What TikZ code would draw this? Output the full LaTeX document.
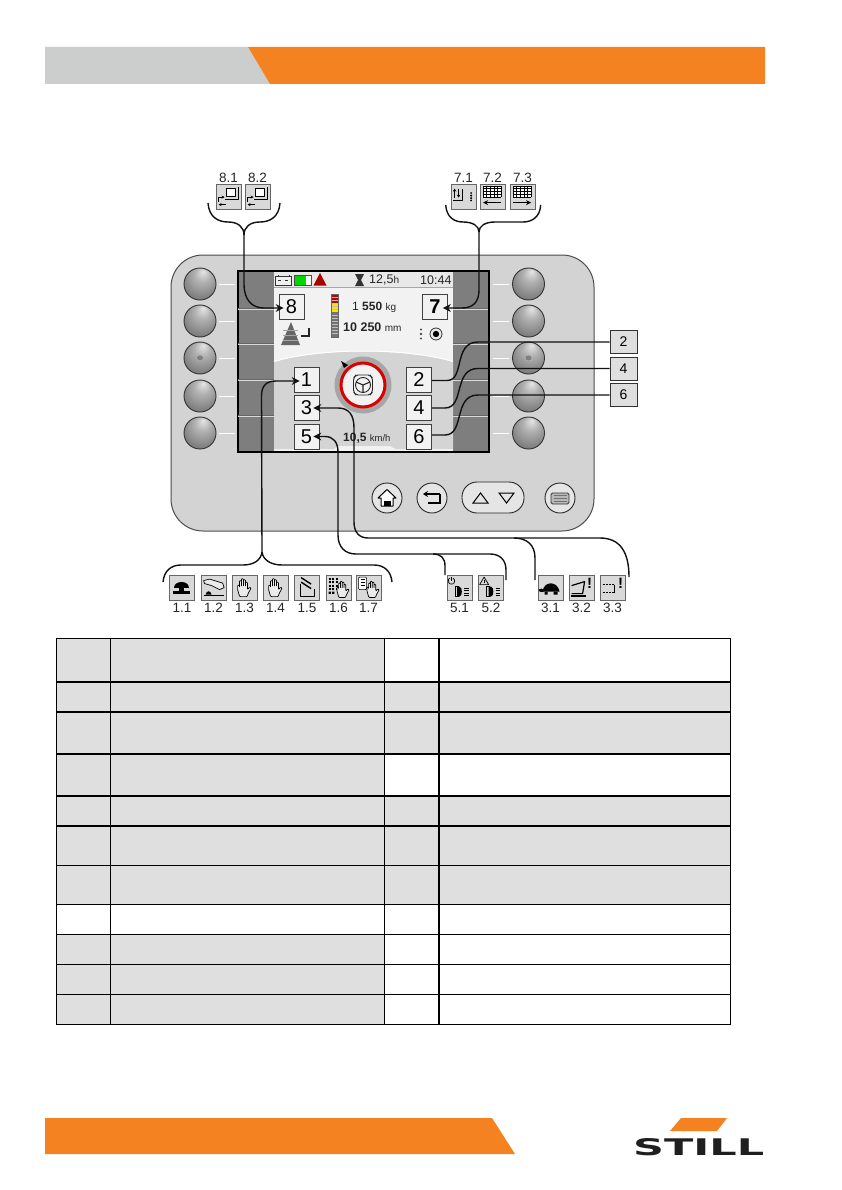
\documentclass[tikz,border=0pt]{standalone}
\usepackage{fontspec}
\usepackage{graphicx}
\setmainfont{Liberation Sans}
\newfontfamily\logofont{DejaVu Sans}
\usetikzlibrary{arrows.meta,calc,shapes.geometric}
\definecolor{orng}{HTML}{F58220}
\definecolor{hdrgray}{HTML}{CCCDCD}
\definecolor{cellgray}{HTML}{DFDFDF}
\definecolor{panelgray}{HTML}{D3D3D3}
\definecolor{sideblock}{HTML}{7E7E7E}
\definecolor{icongray}{HTML}{D9D9D9}
\definecolor{ink}{HTML}{111111}
\pgfdeclareradialshading{btnball}{\pgfpoint{5bp}{20bp}}{color(0bp)=(black!10); color(12bp)=(black!30); color(30bp)=(black!50); color(50bp)=(black!62)}
\tikzset{
  conn/.style={line width=1.4pt,draw=ink,line join=round},
  arrowconn/.style={conn,-{Stealth[length=8pt,width=8pt]}},
  numbox/.style={draw=black!75,line width=.7pt,fill=black!5,minimum width=25pt,minimum height=25pt,inner sep=0pt,font=\fontsize{20}{20}\selectfont},
  sidebox/.style={draw=black!80,line width=.8pt,fill=cellgray,minimum width=27pt,minimum height=23pt,inner sep=0pt,font=\fontsize{14}{14}\selectfont},
  iconbox/.style={draw=black!60,line width=.8pt,fill=icongray,minimum width=25pt,minimum height=25pt,inner sep=0pt},
  lab/.style={inner sep=0pt,font=\fontsize{13.5}{13.5}\selectfont,text=black!85},
  ballbtn/.style={circle,draw=black!80,line width=.9pt,minimum size=32pt,inner sep=0pt,shading=btnball},
  softbtn/.style={circle,draw=black!85,line width=.9pt,fill=black!10,minimum size=30pt,inner sep=0pt},
  tickl/.style={draw=white,line width=1pt},
  gl/.style={draw=black,line width=.7pt,line join=round},
  scr/.style={inner sep=0pt,text=black!85},
}
\newcommand{\handglyph}{%
  \draw[gl,rounded corners=.8pt,fill=white!92!black]
   (8,22)--(6,15)--(6,10.5)--(7.8,10.5)--(7.8,13)--(7.8,6)--(9.8,6)--(9.8,12)--(9.8,4)--(11.8,4)--(11.8,12)--(11.8,5)--(13.8,5)--(13.8,12)--(13.8,7.5)--(15.8,7.5)--(15.8,15)--(18,12.5)--(19.5,13.5)--(16.5,19)--(15.5,22)--cycle;}
\newcommand{\lampglyph}{%
  \draw[gl,line width=.9pt] (12,12) -- (8.5,12) -- (8.5,22) -- (12,22);
  \fill (10.5,12) -- (13,12) .. controls (16,13) and (16,21) .. (13,22) -- (10.5,22) -- cycle;
  \foreach \q in {13.5,16,18.5,21} {\draw[gl,line width=.6pt] (17.5,\q) -- (22,\q);}}
\newcommand{\gridglyph}{%
 \fill[white] (3.5,2.5) rectangle (21.5,13.3);
 \foreach \a in {3.5,7.1,10.7,14.3,17.9,21.5} {\draw[gl,line width=.6pt] (\a,2.5) -- (\a,13.3);}
 \foreach \b in {2.5,5.2,7.9,10.6,13.3} {\draw[gl,line width=.6pt] (3.5,\b) -- (21.5,\b);}}
\begin{document}
\begin{tikzpicture}[x=1pt,y=-1pt]
\useasboundingbox (0,0) rectangle (842,1190);
\fill[white] (0,0) rectangle (842,1190);
% header and footer
\fill[hdrgray] (45,47) -- (248,47) -- (270,84) -- (45,84) -- cycle;
\fill[orng] (248,47) -- (765,47) -- (765,84) -- (270,84) -- cycle;
\fill[orng] (45,1118) -- (492,1118) -- (515,1154) -- (45,1154) -- cycle;
% logo
\fill[orng] (670,1131) -- (681,1118) -- (727,1118) -- (717,1131) -- cycle;
\node[inner sep=0pt,anchor=north west,text=black!88] (logo) at (633,1138) {\resizebox{131pt}{17pt}{\logofont\bfseries STILL}};
% table
\fill[cellgray] (56,638) rectangle (385,904);
\fill[cellgray] (56,934) rectangle (385,1024);
\fill[cellgray] (385,682) rectangle (731,754);
\fill[cellgray] (385,796) rectangle (731,904);
\foreach \q in {682,712,754,796,826} {\draw[black,line width=1.7pt] (56,\q) -- (731,\q);}
\foreach \q in {638,865.5,904.5,934,964.5,994.5,1024} {\draw[black,line width=1pt] (56,\q) -- (731,\q);}
\foreach \q in {56.3,110.7,384.5,730.7} {\draw[black,line width=1pt] (\q,638) -- (\q,1024);}
\draw[black,line width=1.7pt] (439,638) -- (439,1024);
% panel
\draw[draw=black!70,line width=1pt,fill=panelgray,rounded corners=32pt] (171,255) rectangle (594,531);
% screen
\fill[black] (236.5,270) rectangle (489.5,453);
\fill[sideblock] (238.5,272) rectangle (274,450.5);
\fill[sideblock] (453,272) rectangle (487.5,450.5);
\foreach \q in {309,344.5,380,416} {
  \draw[black!60,line width=.8pt] (238,\q-1) -- (274,\q-1) (453,\q-1) -- (488,\q-1);
  \draw[white!85!black,line width=.8pt] (238,\q) -- (274,\q) (453,\q) -- (488,\q);}
\fill[black!5] (274,272) rectangle (453,450.5);
\fill[black!9] (274,272) rectangle (453,287);
\draw[black!35,line width=.6pt] (274,287.5) -- (453,287.5);
\fill[black!17] (274,362) .. controls (320,348) and (406,348) .. (453,362) -- (453,449) -- (396,449) -- (390,446) -- (338,446) -- (334,449) -- (274,449) -- cycle;
\draw[white,line width=1pt] (274,361.5) .. controls (320,347.5) and (406,347.5) .. (453,361.5);
% status bar
\draw[black!80,line width=.7pt,fill=black!6] (275.5,276) rectangle (291.5,285);
\draw[black!80,line width=.9pt] (278,275) -- (278,276) (289,275) -- (289,276) (278,280) -- (281,280) (285,280) -- (288,280);
\draw[black!70,line width=.7pt,fill=white] (294.5,275) rectangle (311,285);
\fill[green!85!black] (295,275.5) rectangle (306,284.5);
\fill[red!65!black] (313.5,285.5) -- (320,273) -- (326.5,285.5) -- cycle;
\fill[black!80] (355,274) -- (364,274) -- (361,280) -- (364,286) -- (355,286) -- (358,280) -- cycle;
\node[scr,anchor=west] (t125) at (369,280) {\fontsize{12.5}{12.5}\selectfont 12,5\fontsize{10}{10}\selectfont h};
\node[scr,anchor=west] (t1044) at (420,280) {\fontsize{12.5}{12.5}\selectfont 10:44};
% load bar and values
\fill[black!55] (331,294) rectangle (338,337);
\fill[red!75!black] (331,294) rectangle (338,303);
\fill[yellow!85!orange] (331,303) rectangle (338,312);
\foreach \q in {297,300,306,309,315,318,321,324,327,330,333} {\draw[black!25,line width=.4pt] (331,\q) -- (338,\q);}
\draw[black!60,line width=.5pt] (331,294) rectangle (338,337);
\node[scr,anchor=west] (tkg) at (352,307.5) {\fontsize{12}{12}\selectfont 1 \textbf{550} \fontsize{10}{10}\selectfont kg};
\node[scr,anchor=west] (tmm) at (343,327) {\fontsize{12.5}{12.5}\selectfont\textbf{10 250} \fontsize{10}{10}\selectfont mm};
% cone and corner
\fill[black!60] (281,345) -- (291,322) -- (300,345) -- cycle;
\foreach \q in {330,335,340} {\draw[black!35,line width=.4pt] (283,\q) -- (298,\q);}
\draw[black!85,line width=1.3pt] (301,336) -- (309,336) -- (309,328);
% right small icons
\fill[black!70] (421,329.5) circle (1.2) (421,334) circle (1.4) (421,338.5) circle (1.2);
\draw[black!80,line width=.8pt,fill=black!8] (436,334) circle (6);
\fill[black] (436,334) circle (3.2);
% dial
\fill[black!35] (363,385) circle (28.5);
\fill[white!95!black] (363,385) circle (22);
\draw[red!85!black,line width=3pt] (363,385) circle (22);
\fill[black] (341,361) -- (348,365) -- (344,368) -- cycle;
\draw[black!85,line width=.9pt,rounded corners=2pt] (353.5,378) -- (356,375) -- (370,375) -- (372.5,378) -- (372.5,392) -- (370,395) -- (356,395) -- (353.5,392) -- cycle;
\draw[black!85,line width=.9pt] (363,385) circle (7.5);
\draw[black!85,line width=1.1pt] (363,385) -- (363,392.5) (363,385) -- (356,382) (363,385) -- (370,382);
\node[scr,anchor=west] (tkmh) at (343,438) {\fontsize{12}{12}\selectfont\textbf{10,5} \fontsize{9.5}{9.5}\selectfont km/h};
% ball buttons
\foreach \nm/\yy in {a/284,b/321,c/358,d/396,e/433} {
  \node[ballbtn] (bl\nm) at (200,\yy) {};
  \node[ballbtn] (br\nm) at (528.5,\yy) {};
  \draw[tickl] ($(bl\nm.east)+(3,0)$) -- ($(bl\nm.east)+(19,0)$);
  \draw[tickl] ($(br\nm.west)+(-3,0)$) -- ($(br\nm.west)+(-19,0)$);
}
\fill[black!50] (blc.center) ellipse (3.5 and 3);
\fill[black!50] (brc.center) ellipse (3.5 and 3);
\draw[black!25,line width=.4pt] (blc.center) ellipse (3.5 and 3) (brc.center) ellipse (3.5 and 3);
% soft buttons
\node[softbtn] (home) at (387,498) {};
\node[softbtn] (back) at (432,498) {};
\node[softbtn] (menu) at (560,498) {};
\node[draw=black!85,line width=.9pt,fill=black!10,rounded corners=15pt,minimum width=62pt,minimum height=31pt,inner sep=0pt] (updn) at (493,497.5) {};
\draw[black,line width=1pt,fill=white,line join=round] (378,498) -- (387,489.5) -- (396,498) -- (393,498) -- (393,506) -- (381,506) -- (381,498) -- cycle;
\fill[black] (384,501) rectangle (391,506);
\draw[black,line width=1.2pt] (428,503) -- (440,503) -- (440,494);
\draw[black,line width=1.2pt,-{Stealth[length=5pt,width=6pt]}] (440,494) -- (423,494);
\draw[black,line width=1pt,line join=miter] (473,503) -- (480.5,493) -- (488,503) -- cycle;
\draw[black,line width=1pt,line join=miter] (499,493) -- (514,493) -- (506.5,503) -- cycle;
\draw[black!80,line width=.9pt,fill=black!28,rounded corners=1.5pt] (551,493) rectangle (569,504);
\foreach \q in {495.5,498.5,501.5} {\draw[black!55,line width=.6pt] (553.5,\q) -- (566.5,\q);}
% numbered boxes
\node[numbox] (n8) at (291.5,307) {8};
\node[numbox] (n7) at (435,307) {\textbf{7}};
\node[numbox] (n1) at (306.5,379.5) {1};
\node[numbox] (n3) at (306.5,408) {3};
\node[numbox] (n5) at (306.5,436.5) {5};
\node[numbox] (n2) at (419,379.5) {2};
\node[numbox] (n4) at (419,408) {4};
\node[numbox] (n6) at (419,436.5) {6};
\node[sidebox] (s2) at (623.5,342) {2};
\node[sidebox] (s4) at (623.5,368.5) {4};
\node[sidebox] (s6) at (623.5,395) {6};
% icons and their labels
\foreach \nm/\xx/\yy/\tt/\ly in {
 i11/182/587.5/1.1/608, i12/213.5/587.5/1.2/608, i13/244.5/587.5/1.3/608, i14/275.5/587.5/1.4/608,
 i15/307/587.5/1.5/608, i16/338.5/587.5/1.6/608, i17/368.5/587.5/1.7/608,
 i51/459.5/587.5/5.1/608, i52/491/587.5/5.2/608, i31/550.5/587.5/3.1/608, i32/581.5/587.5/3.2/608, i33/612.5/587.5/3.3/608,
 i81/228.5/196.5/8.1/177.5, i82/257.5/196.5/8.2/177.5, i71/463.5/196.5/7.1/177.5, i72/492.5/196.5/7.2/177.5, i73/522.5/196.5/7.3/177.5} {
  \node[iconbox] (\nm) at (\xx,\yy) {};
  \node[lab] (l\nm) at (\xx,\ly) {\tt};
}
% icon glyphs: local box 0..25
\begin{scope}[shift={(i11.north west)}]
 \fill[black] (5,13.5) .. controls (5,5.5) and (20,5.5) .. (20,13.5) -- cycle;
 \fill[black] (10,13.5) rectangle (15,16);
 \fill[black] (4,16) rectangle (21,19);
\end{scope}
\begin{scope}[shift={(i12.north west)}]
 \draw[gl,fill=white!92!black] (3,6) -- (9,4.5) -- (22,8.5) -- (23.5,13) -- (19,15) -- (11,11) -- (4,9) -- cycle;
 \fill[black] (5,20) .. controls (6,15.5) and (10,15.5) .. (11,20) -- cycle;
 \draw[gl,line width=1pt] (3,20.5) -- (23,20.5);
\end{scope}
\begin{scope}[shift={(i13.north west)}] \handglyph \end{scope}
\begin{scope}[shift={(i14.north west)}] \handglyph \end{scope}
\begin{scope}[shift={(i15.north west)}]
 \draw[gl] (6.5,9) -- (6.5,22) -- (20,22) -- (20,14);
 \draw[gl,line width=1.4pt] (7,3) -- (17,9.5) (7,7.5) -- (17,14);
\end{scope}
\begin{scope}[shift={(i16.north west)}]
 \foreach \a in {3,6.5,10} {\foreach \b in {3,6.5,10,13.5} {\fill[black] (\a,\b) rectangle (\a+2.3,\b+2.3);}}
 \fill[black] (3,17) rectangle (5.3,19.3) (6.5,17) rectangle (8.8,19.3);
 \begin{scope}[shift={(6,3)},scale=.9] \handglyph \end{scope}
\end{scope}
\begin{scope}[shift={(i17.north west)}]
 \draw[gl,rounded corners=1pt,fill=white] (3,2.5) rectangle (11,15);
 \draw[gl,line width=1.3pt] (5,5) -- (9,5) (5,8) -- (9,8) (5,11) -- (9,11);
 \begin{scope}[shift={(6,3)},scale=.9] \handglyph \end{scope}
\end{scope}
\begin{scope}[shift={(i51.north west)}]
 \draw[gl] (6.5,3.5) arc (-60:240:3.3);
 \draw[gl] (5,2) -- (5,6);
 \lampglyph
\end{scope}
\begin{scope}[shift={(i52.north west)}]
 \draw[gl] (1.5,10) -- (6,2.5) -- (10.5,10) -- cycle;
 \draw[gl] (6,5) -- (6,8);
 \lampglyph
\end{scope}
\begin{scope}[shift={(i31.north west)}]
 \fill[black] (5,17) .. controls (6,6) and (20,6) .. (22,17) -- cycle;
 \fill[black] (1,15) .. controls (3,13) and (5,14) .. (7,16) -- (5,17.5) -- (2,17) -- cycle;
 \fill[black] (7,17) rectangle (10,20) (16,17) rectangle (20,20);
\end{scope}
\begin{scope}[shift={(i32.north west)}]
 \draw[gl,line width=1.2pt] (3,11) -- (16,7) -- (14,19) -- (3,19);
 \draw[gl,line width=1.4pt] (2,21.5) -- (17,21.5);
 \node[inner sep=0pt,font=\bfseries\fontsize{15}{15}\selectfont] (e32) at (21,9) {!};
\end{scope}
\begin{scope}[shift={(i33.north west)}]
 \draw[gl,line width=1.2pt,dash pattern=on 2.2pt off 1pt] (3,10) -- (15,10) (3,18) -- (15,18);
 \draw[gl,line width=1.2pt] (15,10) -- (15,18);
 \node[inner sep=0pt,font=\bfseries\fontsize{15}{15}\selectfont] (e33) at (21,9) {!};
\end{scope}
\foreach \nm in {i81,i82} {
\begin{scope}[shift={(\nm.north west)}]
 \draw[gl,fill=white] (11,5) rectangle (20,13);
 \draw[gl,line width=1pt] (22.5,3.5) -- (22.5,16) -- (9,16);
 \draw[gl,-{Stealth[length=3pt,width=3pt]}] (3,18) -- (3,13.5) -- (9,13.5);
 \draw[gl,-{Stealth[length=3pt,width=3pt]}] (10,21) -- (3,21);
\end{scope}}
\begin{scope}[shift={(i71.north west)}]
 \draw[gl,line width=1pt,-{Stealth[length=3pt,width=3.5pt]}] (4,14) -- (4,5);
 \draw[gl,line width=1pt,-{Stealth[length=3pt,width=3.5pt]}] (8,5) -- (8,14);
 \draw[gl,line width=1pt] (12,5) -- (12,17) -- (2.5,17);
 \fill[black] (20.5,9.5) circle (1) (20.5,12) circle (1.2) (20.5,14.5) circle (1.2) (20.5,17) circle (1);
\end{scope}
\begin{scope}[shift={(i72.north west)}]
 \gridglyph
 \draw[gl,line width=1pt,-{Stealth[length=5pt,width=5pt]}] (21.5,19) -- (3.5,19);
\end{scope}
\begin{scope}[shift={(i73.north west)}]
 \gridglyph
 \draw[gl,line width=1pt,-{Stealth[length=5pt,width=5pt]}] (3.5,19) -- (21.5,19);
\end{scope}
% bracket junctions
\coordinate (j8) at (244,235);
\coordinate (j7) at (479,232);
\coordinate (j1) at (262,552);
% brackets and connectors
\draw[conn] (208,203) .. controls (209,217) and (218,222) .. (228,222) .. controls (238,222) and (244,227) .. (j8);
\draw[conn] (280,203) .. controls (279,217) and (270,222) .. (260,222) .. controls (250,222) and (244,227) .. (j8);
\draw[arrowconn] (j8) -- (244,284) .. controls (244,300) and (252,308) .. (264,308) -- ($(n8.west)+(5,1)$);
\draw[conn] (445.7,205) .. controls (446.5,217) and (454,222) .. (463,222) .. controls (473,222) and (479,226) .. (j7);
\draw[conn] (540.7,205) .. controls (540,217) and (532,222) .. (523,222) -- (495,222) .. controls (485,222) and (479,226) .. (j7);
\draw[arrowconn] (j7) -- (479,290) .. controls (479,302) and (473,308) .. (462,308) -- ($(n7.east)+(-5,1)$);
\draw[conn] (163,582) .. controls (164,571) and (171,565) .. (181,565) -- (243,565) .. controls (254,565) and (261,560) .. (j1);
\draw[conn] (392,582) .. controls (391,571) and (384,565) .. (374,565) -- (282,565) .. controls (271,565) and (263,560) .. (j1);
\draw[arrowconn] (j1) -- (261.5,396) .. controls (261.5,386) and (266,381) .. (276,381) -- ($(n1.west)+(6,1.5)$);
\draw[arrowconn] (535,580) -- (535,558) .. controls (535,545) and (527,538) .. (514,538) -- (368,538) .. controls (359,538) and (354,532) .. (354,522) -- (354,428) .. controls (354,415) and (349,408) .. (338,408) -- ($(n3.east)+(-6,0)$);
\draw[conn] (629,577) .. controls (629,552) and (620,538) .. (600,538) -- (514,538);
\draw[arrowconn] (445,575) -- (445,566) .. controls (445,558) and (441,554) .. (433,554) -- (356,554) .. controls (345,554) and (338,547) .. (338,535) -- (338,452) .. controls (338,442) and (333,436.5) .. (325,436.5) -- ($(n5.east)+(-6,0)$);
\draw[conn] (506,580) -- (506,570) .. controls (506,560) and (500,554) .. (490,554) -- (433,554);
\draw[conn] (n2.east |- 0,380.5) -- (447,380.5) .. controls (465,380.5) and (453,342) .. (478,342) -- (s2.west);
\draw[conn] (n4.east) -- (445,408) .. controls (465,408) and (453,368.5) .. (478,368.5) -- (s4.west);
\draw[conn] (n6.east |- 0,435) -- (445,435) .. controls (465,435) and (453,395) .. (478,395) -- (s6.west);
\end{tikzpicture}
\end{document}
